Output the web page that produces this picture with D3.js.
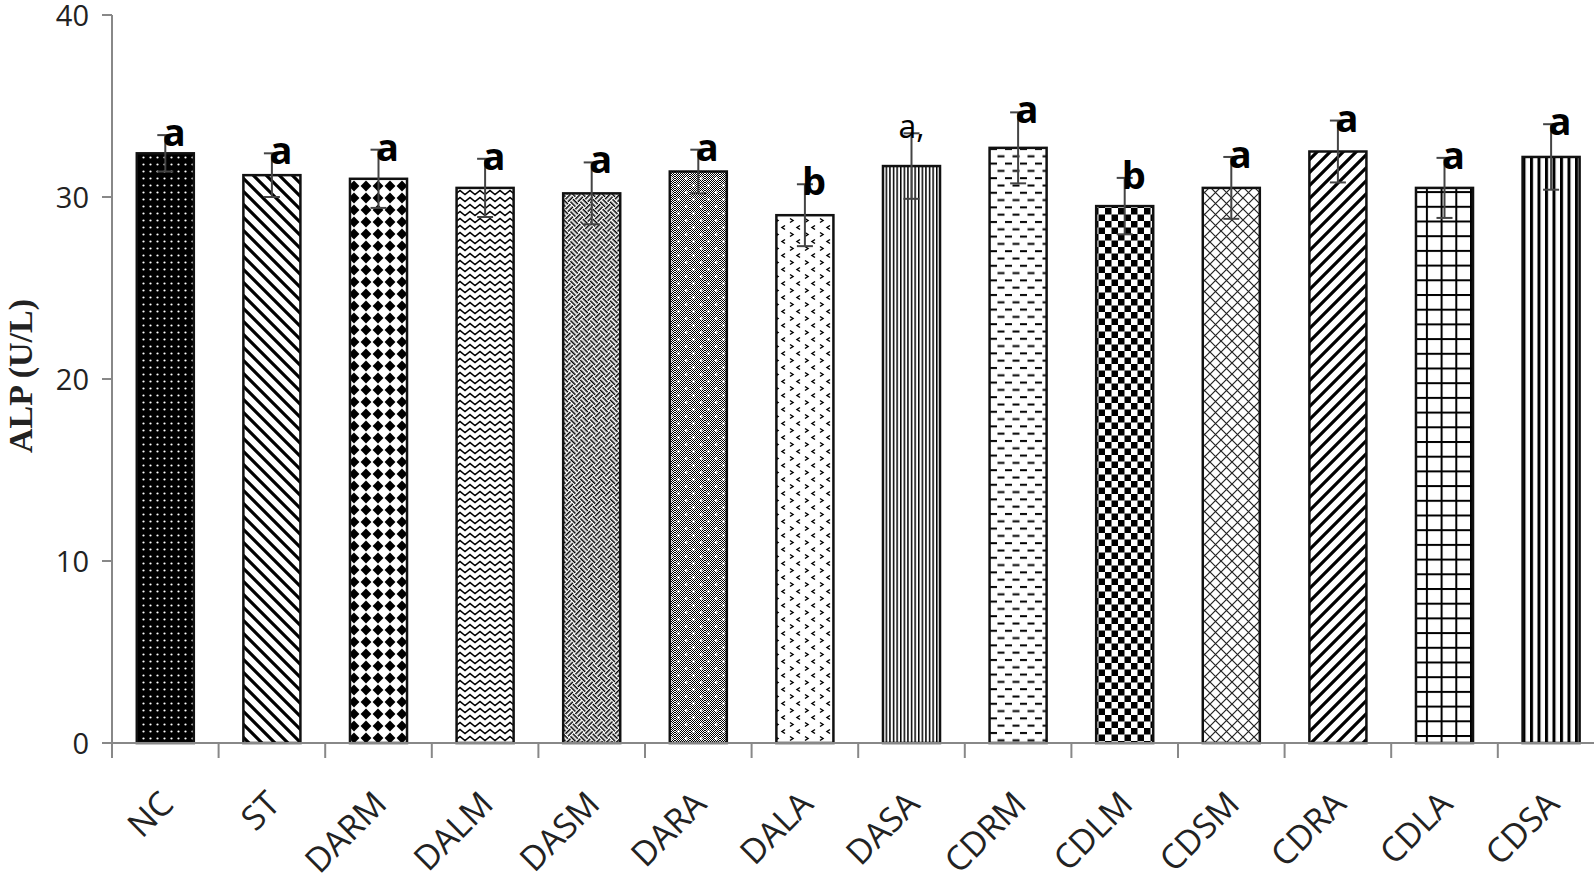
<!DOCTYPE html>
<html>
<head>
<meta charset="utf-8">
<script src="https://cdn.jsdelivr.net/npm/d3@7"></script>
<style>
  body { margin: 0; background: #fff; }
  svg { display: block; }
</style>
</head>
<body>
<script>
// ALP (U/L) per group, bars with SE and letter groups
const categories = ["NC", "ST", "DARM", "DALM", "DASM", "DARA", "DALA", "DASA", "CDRM", "CDLM", "CDSM", "CDRA", "CDLA", "CDSA"];
const means = [32.4, 31.2, 31.0, 30.5, 30.2, 31.4, 29.0, 31.7, 32.7, 29.5, 30.5, 32.5, 30.5, 32.2];
const errors = [1.0, 1.2, 1.6, 1.6, 1.7, 1.2, 1.7, 1.8, 1.95, 1.55, 1.7, 1.7, 1.65, 1.8];
const letters = ["a", "a", "a", "a", "a", "a", "b", "a,", "a", "b", "a", "a", "a", "a"];
const yTicks = [0, 10, 20, 30, 40];

let w = 1594;
let h = 884;

let svg = d3.select("body")
            .append("svg")
            .attr("width", w)
            .attr("height", h);

let x = d3.scaleBand()
          .domain(categories)
          .range([112, 112 + 14 * 106.6])
          .paddingInner(0.465)
          .paddingOuter(0.2325);

let y = d3.scaleLinear()
          .domain([0, 40])
          .range([743, 15]);

// fill patterns, one per bar
let defs = svg.append("defs");

function pat(id, pw, ph, build, transform) {
	let p = defs.append("pattern")
	            .attr("id", id)
	            .attr("patternUnits", "userSpaceOnUse")
	            .attr("width", pw)
	            .attr("height", ph);
	if (transform) p.attr("patternTransform", transform);
	p.append("rect").attr("width", pw).attr("height", ph).attr("fill", "#fff");
	build(p);
}

function line(p, d, sw, col) {
	p.append("path").attr("d", d).attr("fill", "none")
	 .attr("stroke", col || "#000").attr("stroke-width", sw);
}

// fine 1px checker used as grey background
pat("fine", 2, 2, p => {
	p.append("rect").attr("width", 1).attr("height", 1).attr("fill", "#000");
	p.append("rect").attr("x", 1).attr("y", 1).attr("width", 1).attr("height", 1).attr("fill", "#000");
});

pat("p0", 7, 7, p => {
	p.select("rect").attr("fill", "#000");
	p.append("circle").attr("cx", 3.5).attr("cy", 3.5).attr("r", 1.1).attr("fill", "#fff");
});
pat("p1", 13, 13, p => line(p, "M0,0L13,13M-4,9L4,17M9,-4L17,4", 3.2));
pat("p2", 12, 12, p => p.append("path").attr("d", "M6,0.6L11.4,6L6,11.4L0.6,6Z").attr("fill", "#000"));
pat("p3", 10, 7, p => line(p, "M-5,5.5L0,1.5L5,5.5L10,1.5L15,5.5", 1.5));
pat("p4", 14, 14, p => line(p,
	"M0,1.75H7M0,5.25H7M8.75,0V7M12.25,0V7M1.75,7V14M5.25,7V14M7,8.75H14M7,12.25H14", 1.5), "rotate(45)");
pat("p5", 15, 14, p => {
	p.select("rect").attr("fill", "url(#fine)");
	p.append("circle").attr("cx", 3.5).attr("cy", 3.5).attr("r", 1.3).attr("fill", "#fff");
	p.append("circle").attr("cx", 11).attr("cy", 10.5).attr("r", 1.3).attr("fill", "#fff");
});
pat("p6", 15, 14, p => line(p, "M5,1.5L2,3.5L5,5.5M10,8.5L13,10.5L10,12.5", 1.5));
pat("p7", 3.6, 10, p => p.append("rect").attr("width", 1.5).attr("height", 10).attr("fill", "#000"));
pat("p8", 15, 14.6, p => {
	p.append("rect").attr("x", 0).attr("y", 2).attr("width", 7).attr("height", 2).attr("fill", "#000");
	p.append("rect").attr("x", 7.5).attr("y", 9.3).attr("width", 7).attr("height", 2).attr("fill", "#000");
});
pat("p9", 13, 13, p => {
	p.append("rect").attr("width", 6.5).attr("height", 6.5).attr("fill", "#000");
	p.append("rect").attr("x", 6.5).attr("y", 6.5).attr("width", 6.5).attr("height", 6.5).attr("fill", "#000");
});
pat("p10", 11, 11, p => line(p, "M0,0L11,11M11,0L0,11", 1.2, "#222"));
pat("p11", 13, 13, p => line(p, "M0,13L13,0M-4,4L4,-4M9,17L17,9", 3.2));
pat("p12", 14.7, 14.7, p => {
	p.append("rect").attr("width", 2).attr("height", 14.7).attr("fill", "#000");
	p.append("rect").attr("width", 14.7).attr("height", 2).attr("fill", "#000");
});
pat("p13", 7.5, 10, p => p.append("rect").attr("width", 3).attr("height", 10).attr("fill", "#000"));

let rows = categories.map((c, i) => ({ cat: c, mean: means[i], err: errors[i], label: letters[i], i: i }));

// bars
svg.selectAll("rect.bar")
   .data(rows)
   .enter()
   .append("rect")
   .attr("class", "bar")
   .attr("x", d => x(d.cat))
   .attr("y", d => y(d.mean))
   .attr("width", x.bandwidth())
   .attr("height", d => y(0) - y(d.mean))
   .attr("fill", d => "url(#p" + d.i + ")")
   .attr("stroke", "#111")
   .attr("stroke-width", 2.5);

// axes
let axisCol = "#888";
let yAxis = svg.append("g");
yAxis.append("line")
     .attr("x1", 112).attr("x2", 112)
     .attr("y1", y(40)).attr("y2", y(0))
     .attr("stroke", axisCol).attr("stroke-width", 2);
yAxis.selectAll("line.tick")
     .data(yTicks)
     .enter()
     .append("line")
     .attr("class", "tick")
     .attr("x1", 102).attr("x2", 112)
     .attr("y1", d => y(d)).attr("y2", d => y(d))
     .attr("stroke", axisCol).attr("stroke-width", 2);
yAxis.selectAll("text")
     .data(yTicks)
     .enter()
     .append("text")
     .attr("x", 89)
     .attr("y", d => y(d))
     .attr("dy", "0.38em")
     .attr("text-anchor", "end")
     .style("font-family", "'Open Sans', sans-serif")
     .style("font-size", "29px")
     .style("fill", "#222")
     .text(d => d);

let xAxis = svg.append("g");
xAxis.append("line")
     .attr("x1", 102).attr("x2", w)
     .attr("y1", y(0)).attr("y2", y(0))
     .attr("stroke", axisCol).attr("stroke-width", 2);
xAxis.selectAll("line.tick")
     .data(rows)
     .enter()
     .append("line")
     .attr("class", "tick")
     .attr("x1", d => x(d.cat) + x.bandwidth() / 2 - x.step() / 2)
     .attr("x2", d => x(d.cat) + x.bandwidth() / 2 - x.step() / 2)
     .attr("y1", y(0)).attr("y2", y(0) + 15)
     .attr("stroke", axisCol).attr("stroke-width", 2);
xAxis.selectAll("text")
     .data(rows)
     .enter()
     .append("text")
     .attr("text-anchor", "end")
     .attr("transform", d => "translate(" + (x(d.cat) + x.bandwidth() / 2 + 10) + "," + (y(0) + 63) + ") rotate(-45)")
     .style("font-family", "'Open Sans', sans-serif")
     .style("font-size", "34px")
     .style("fill", "#222")
     .text(d => d.cat);

// error bars
let eb = svg.append("g").attr("stroke", "#444").attr("stroke-width", 2);
rows.forEach(d => {
	let cx = x(d.cat) + x.bandwidth() / 2;
	eb.append("line").attr("x1", cx).attr("x2", cx).attr("y1", y(d.mean + d.err)).attr("y2", y(d.mean - d.err));
	eb.append("line").attr("x1", cx - 8).attr("x2", cx + 8).attr("y1", y(d.mean + d.err)).attr("y2", y(d.mean + d.err));
	eb.append("line").attr("x1", cx - 8).attr("x2", cx + 8).attr("y1", y(d.mean - d.err)).attr("y2", y(d.mean - d.err));
});

// significance letters
svg.selectAll("text.sig")
   .data(rows)
   .enter()
   .append("text")
   .attr("class", "sig")
   .attr("x", d => x(d.cat) + x.bandwidth() / 2 + (d.label == "a," ? 0 : 9))
   .attr("y", d => y(d.mean + d.err) + (d.label == "a," ? 5 : 11))
   .attr("text-anchor", "middle")
   .style("font-family", "'Open Sans', sans-serif")
   .style("font-size", d => d.label == "a," ? "32px" : "38px")
   .style("font-weight", d => d.label == "a," ? "normal" : "bold")
   .style("fill", "#000")
   .text(d => d.label);

// y axis title
svg.append("text")
   .attr("transform", "translate(32,376) rotate(-90)")
   .attr("text-anchor", "middle")
   .style("font-family", "'Liberation Serif', 'Times New Roman', serif")
   .style("font-size", "34px")
   .style("font-weight", "bold")
   .style("fill", "#222")
   .text("ALP (U/L)");
</script>
</body>
</html>
